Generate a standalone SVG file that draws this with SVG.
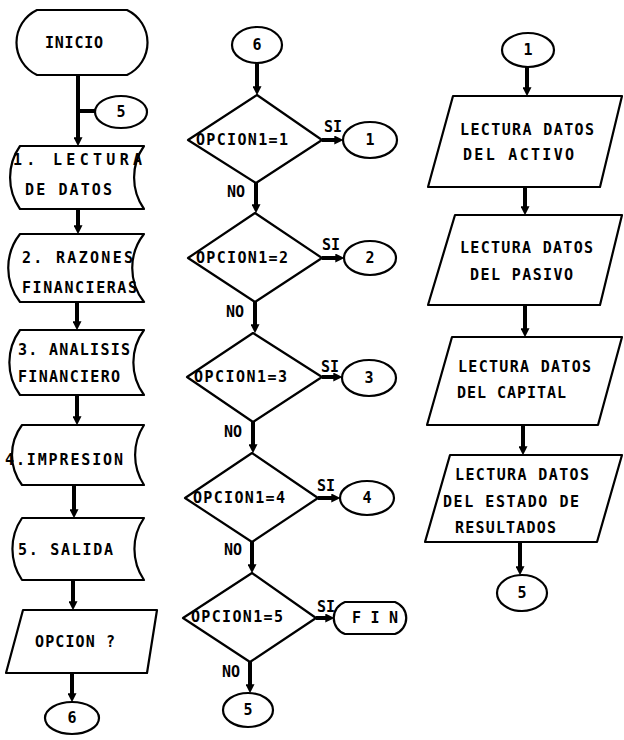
<svg xmlns="http://www.w3.org/2000/svg" width="624" height="740" viewBox="0 0 624 740">
<defs>
<style>
.s{fill:#fff;stroke:#000;stroke-width:2.2;stroke-linejoin:round}
.c{fill:none;stroke:#000;stroke-width:4}
.t{font-family:"DejaVu Sans Mono","Liberation Mono",monospace;font-weight:bold;font-size:15px;fill:#000}
.m{text-anchor:middle}
</style>
<marker id="ah" viewBox="0 0 10 10" refX="3" refY="5" markerWidth="9" markerHeight="9" markerUnits="userSpaceOnUse" orient="auto">
<path d="M0,0 L10,5 L0,10 z" fill="#000"/>
</marker>
</defs>
<rect width="624" height="740" fill="#fff"/>

<g id="connectors">
<line class="c" x1="78" y1="75" x2="78" y2="140" marker-end="url(#ah)"/>
<line class="c" x1="78" y1="111" x2="96" y2="111"/>
<line class="c" x1="78" y1="209" x2="78" y2="228" marker-end="url(#ah)"/>
<line class="c" x1="77" y1="302" x2="77" y2="324" marker-end="url(#ah)"/>
<line class="c" x1="77" y1="395" x2="77" y2="419" marker-end="url(#ah)"/>
<line class="c" x1="74" y1="485" x2="74" y2="512" marker-end="url(#ah)"/>
<line class="c" x1="73" y1="580" x2="73" y2="604" marker-end="url(#ah)"/>
<line class="c" x1="72" y1="673" x2="72" y2="696" marker-end="url(#ah)"/>

<line class="c" x1="257" y1="63" x2="257" y2="89" marker-end="url(#ah)"/>
<line class="c" x1="256" y1="183" x2="256" y2="207" marker-end="url(#ah)"/>
<line class="c" x1="255" y1="302" x2="255" y2="327" marker-end="url(#ah)"/>
<line class="c" x1="253" y1="422" x2="253" y2="447" marker-end="url(#ah)"/>
<line class="c" x1="252" y1="542" x2="252" y2="567" marker-end="url(#ah)"/>
<line class="c" x1="250" y1="662" x2="250" y2="687" marker-end="url(#ah)"/>

<line class="c" x1="322" y1="140" x2="337" y2="140" marker-end="url(#ah)"/>
<line class="c" x1="322" y1="258" x2="338" y2="258" marker-end="url(#ah)"/>
<line class="c" x1="322" y1="377" x2="336" y2="377" marker-end="url(#ah)"/>
<line class="c" x1="318" y1="498" x2="334" y2="498" marker-end="url(#ah)"/>
<line class="c" x1="316" y1="618" x2="328" y2="618" marker-end="url(#ah)"/>

<line class="c" x1="527" y1="67" x2="527" y2="90" marker-end="url(#ah)"/>
<line class="c" x1="525" y1="187" x2="525" y2="209" marker-end="url(#ah)"/>
<line class="c" x1="525" y1="305" x2="525" y2="331" marker-end="url(#ah)"/>
<line class="c" x1="523" y1="425" x2="523" y2="449" marker-end="url(#ah)"/>
<line class="c" x1="520" y1="542" x2="520" y2="569" marker-end="url(#ah)"/>

<text class="t" x="324" y="132">SI</text>
<text class="t" x="322" y="250">SI</text>
<text class="t" x="321" y="372">SI</text>
<text class="t" x="317" y="491">SI</text>
<text class="t" x="317" y="612">SI</text>
<text class="t" x="227" y="197">NO</text>
<text class="t" x="226" y="317">NO</text>
<text class="t" x="224" y="437">NO</text>
<text class="t" x="224" y="555">NO</text>
<text class="t" x="222" y="677">NO</text>
</g>

<g id="inicio">
<path class="s" d="M37,10 L127,10 A36 36 0 0 1 127,75 L37,75 A36 36 0 0 1 37,10 Z"/>
<text class="t" x="45" y="48" textLength="58" lengthAdjust="spacing">INICIO</text>
</g>
<g id="conn5a">
<ellipse class="s" cx="121" cy="112" rx="26" ry="16"/>
<text class="t m" x="121" y="117">5</text>
</g>
<g id="lectura">
<path class="s" d="M20,146 L144,146 A55 55 0 0 0 144,209 L20,209 A55 55 0 0 1 20,146 Z"/>
<text class="t" x="13" y="165" textLength="129" lengthAdjust="spacing">1. LECTURA</text>
<text class="t" x="25" y="195" textLength="87" lengthAdjust="spacing">DE DATOS</text>
</g>
<g id="razones">
<path class="s" d="M20,234 L144,234 A55 55 0 0 0 144,302 L20,302 A55 55 0 0 1 20,234 Z"/>
<text class="t" x="22" y="263" textLength="111" lengthAdjust="spacing">2. RAZONES</text>
<text class="t" x="22" y="293" textLength="115" lengthAdjust="spacing">FINANCIERAS</text>
</g>
<g id="analisis">
<path class="s" d="M20,330 L144,330 A55 55 0 0 0 144,395 L20,395 A55 55 0 0 1 20,330 Z"/>
<text class="t" x="18" y="355" textLength="112" lengthAdjust="spacing">3. ANALISIS</text>
<text class="t" x="18" y="382" textLength="102" lengthAdjust="spacing">FINANCIERO</text>
</g>
<g id="impresion">
<path class="s" d="M22,425 L144,425 A55 55 0 0 0 144,485 L22,485 A50 50 0 0 1 22,425 Z"/>
<text class="t" x="5" y="465" textLength="118" lengthAdjust="spacing">4.IMPRESION</text>
</g>
<g id="salida">
<path class="s" d="M22,518 L144,518 A55 55 0 0 0 144,580 L22,580 A55 55 0 0 1 22,518 Z"/>
<text class="t" x="18" y="555" textLength="95" lengthAdjust="spacing">5. SALIDA</text>
</g>
<g id="opcion">
<polygon class="s" points="23,610 157,610 147,673 6,673"/>
<text class="t" x="35" y="647" textLength="80" lengthAdjust="spacing">OPCION ?</text>
</g>
<g id="conn6a">
<ellipse class="s" cx="72" cy="718" rx="27" ry="16"/>
<text class="t m" x="72" y="723">6</text>
</g>

<g id="conn6b">
<ellipse class="s" cx="257" cy="45" rx="25" ry="18"/>
<text class="t m" x="257" y="50">6</text>
</g>
<g id="d1">
<polygon class="s" points="257,95 322,140 256,183 188,140"/>
<text class="t" x="196" y="145" textLength="92" lengthAdjust="spacing">OPCION1=1</text>
</g>
<g id="d2">
<polygon class="s" points="255,213 322,258 255,302 188,258"/>
<text class="t" x="196" y="263" textLength="92" lengthAdjust="spacing">OPCION1=2</text>
</g>
<g id="d3">
<polygon class="s" points="253,333 322,377 253,422 187,377"/>
<text class="t" x="194" y="382" textLength="93" lengthAdjust="spacing">OPCION1=3</text>
</g>
<g id="d4">
<polygon class="s" points="252,453 318,498 252,542 185,498"/>
<text class="t" x="193" y="503" textLength="92" lengthAdjust="spacing">OPCION1=4</text>
</g>
<g id="d5">
<polygon class="s" points="252,573 316,618 250,662 183,618"/>
<text class="t" x="191" y="622" textLength="92" lengthAdjust="spacing">OPCION1=5</text>
</g>
<g id="c1">
<ellipse class="s" cx="370" cy="140" rx="27" ry="18"/>
<text class="t m" x="370" y="145">1</text>
</g>
<g id="c2">
<ellipse class="s" cx="370" cy="258" rx="26" ry="17"/>
<text class="t m" x="370" y="263">2</text>
</g>
<g id="c3">
<ellipse class="s" cx="369" cy="378" rx="27" ry="18"/>
<text class="t m" x="369" y="383">3</text>
</g>
<g id="c4">
<ellipse class="s" cx="367" cy="498" rx="27" ry="17"/>
<text class="t m" x="367" y="503">4</text>
</g>
<g id="fin">
<path class="s" d="M345,602 L395,602 A17 17 0 0 1 395,634 L345,634 A17 17 0 0 1 345,602 Z"/>
<text class="t" x="352" y="623" textLength="46" lengthAdjust="spacing">F I N</text>
</g>
<g id="conn5b">
<ellipse class="s" cx="248" cy="710" rx="25" ry="17"/>
<text class="t m" x="248" y="715">5</text>
</g>

<g id="conn1">
<ellipse class="s" cx="528" cy="50" rx="26" ry="17"/>
<text class="t m" x="528" y="55">1</text>
</g>
<g id="activo">
<polygon class="s" points="453,96 622,96 600,187 428,187"/>
<text class="t" x="460" y="135" textLength="134" lengthAdjust="spacing">LECTURA DATOS</text>
<text class="t" x="463" y="160" textLength="111" lengthAdjust="spacing">DEL ACTIVO</text>
</g>
<g id="pasivo">
<polygon class="s" points="455,215 622,215 600,305 428,305"/>
<text class="t" x="460" y="253" textLength="133" lengthAdjust="spacing">LECTURA DATOS</text>
<text class="t" x="470" y="280" textLength="103" lengthAdjust="spacing">DEL PASIVO</text>
</g>
<g id="capital">
<polygon class="s" points="452,337 622,337 598,425 427,425"/>
<text class="t" x="458" y="372" textLength="133" lengthAdjust="spacing">LECTURA DATOS</text>
<text class="t" x="457" y="398" textLength="109" lengthAdjust="spacing">DEL CAPITAL</text>
</g>
<g id="resultados">
<polygon class="s" points="450,455 622,455 597,542 425,542"/>
<text class="t" x="455" y="480" textLength="134" lengthAdjust="spacing">LECTURA DATOS</text>
<text class="t" x="443" y="507" textLength="136" lengthAdjust="spacing">DEL ESTADO DE</text>
<text class="t" x="455" y="533" textLength="101" lengthAdjust="spacing">RESULTADOS</text>
</g>
<g id="conn5c">
<ellipse class="s" cx="522" cy="593" rx="25" ry="18"/>
<text class="t m" x="522" y="598">5</text>
</g>
</svg>
